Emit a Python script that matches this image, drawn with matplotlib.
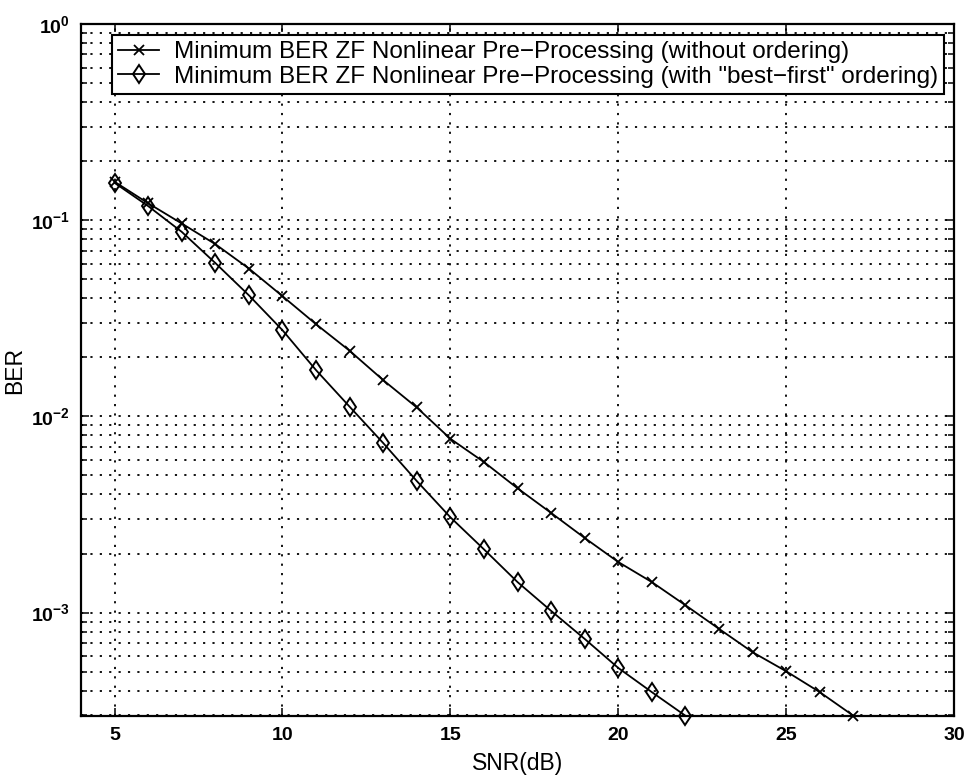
import math
import matplotlib
matplotlib.use("Agg")
import matplotlib.pyplot as plt
from matplotlib.ticker import LogLocator, FixedLocator, NullFormatter, FuncFormatter

plt.rcParams['font.family'] = ['Liberation Sans', 'DejaVu Sans']
plt.rcParams['mathtext.fontset'] = 'custom'
plt.rcParams['mathtext.rm'] = 'Liberation Sans'
plt.rcParams['mathtext.it'] = 'Liberation Sans'
plt.rcParams['mathtext.bf'] = 'Liberation Sans:bold'

# SNR points (dB)
snr_plain = [5, 6, 7, 8, 9, 10, 11, 12, 13, 14, 15, 16, 17, 18, 19, 20,
             21, 22, 23, 24, 25, 26, 27]
snr_ordered = [5, 6, 7, 8, 9, 10, 11, 12, 13, 14, 15, 16, 17, 18, 19, 20,
               21, 22]

# BER without ordering
ber_plain = [0.157, 0.122, 0.0962, 0.0755, 0.0567, 0.041, 0.0295, 0.0216,
             0.0153, 0.0111, 0.00769, 0.00585, 0.0043, 0.00322, 0.0024,
             0.00181, 0.00143, 0.00109, 0.000826, 0.000628, 0.000502,
             0.000393, 0.000298]
# BER with "best-first" ordering
ber_ordered = [0.155, 0.118, 0.0872, 0.0605, 0.0414, 0.0275, 0.0172, 0.0112,
               0.00731, 0.00468, 0.00306, 0.0021, 0.00143, 0.00102,
               0.000734, 0.000522, 0.000393, 0.000298]

labels = ['Minimum BER ZF Nonlinear Pre\u2212Processing (without ordering)',
          'Minimum BER ZF Nonlinear Pre\u2212Processing (with "best\u2212first" ordering)']
x_ticks = [5, 10, 15, 20, 25, 30]

fig = plt.figure(figsize=(9.69, 7.77), dpi=100)
ax = fig.add_axes([0.0836, 0.0785, 0.901, 0.8906])

ax.plot(snr_plain, ber_plain, color='black', lw=1.3, marker='x',
        markersize=7, markeredgewidth=1.3, clip_on=False, label=labels[0], zorder=3)
ax.plot(snr_ordered, ber_ordered, color='black', lw=1.3, marker='d',
        markersize=9.5, markeredgewidth=1.4, markerfacecolor='none',
        clip_on=False, label=labels[1], zorder=3)

ax.set_yscale('log')
ax.set_xlim(4, 30)
ax.set_ylim(2.97e-4, 1)

ax.xaxis.set_major_locator(FixedLocator(x_ticks))
ax.yaxis.set_major_locator(LogLocator(base=10, numticks=10))
ax.yaxis.set_minor_locator(LogLocator(base=10, subs=range(2, 10), numticks=20))
ax.yaxis.set_minor_formatter(NullFormatter())
ax.yaxis.set_major_formatter(FuncFormatter(
    lambda v, p: r'$\mathbf{10^{%d}}$' % round(math.log10(v))))

grid_style = dict(color='black', linestyle=(0, (1.2, 4.0)), linewidth=1.3)
ax.grid(True, which='major', axis='both', **grid_style)
ax.grid(True, which='minor', axis='y', **grid_style)

ax.tick_params(which='both', direction='in', top=True, right=True,
               labelsize=14, pad=8, width=1.1)
ax.tick_params(which='major', length=6)
ax.tick_params(which='minor', length=4)
for lbl in ax.get_xticklabels():
    lbl.set_fontweight('bold')
for sp in ax.spines.values():
    sp.set_linewidth(1.6)

ax.set_xlabel('SNR(dB)', fontsize=16.5, labelpad=6)
ax.set_ylabel('BER', fontsize=16.5)
ax.yaxis.set_label_coords(-0.063, 0.5)

leg = ax.legend(loc='upper left', bbox_to_anchor=(0.0355, 0.984), fontsize=17.5,
                frameon=True, fancybox=False, framealpha=1, edgecolor='black',
                borderpad=0.25, labelspacing=0.1, handlelength=1.7,
                handletextpad=0.6, borderaxespad=0)
leg.get_frame().set_linewidth(1.5)
leg.set_zorder(5)

fig.savefig('out.png', dpi=100)
